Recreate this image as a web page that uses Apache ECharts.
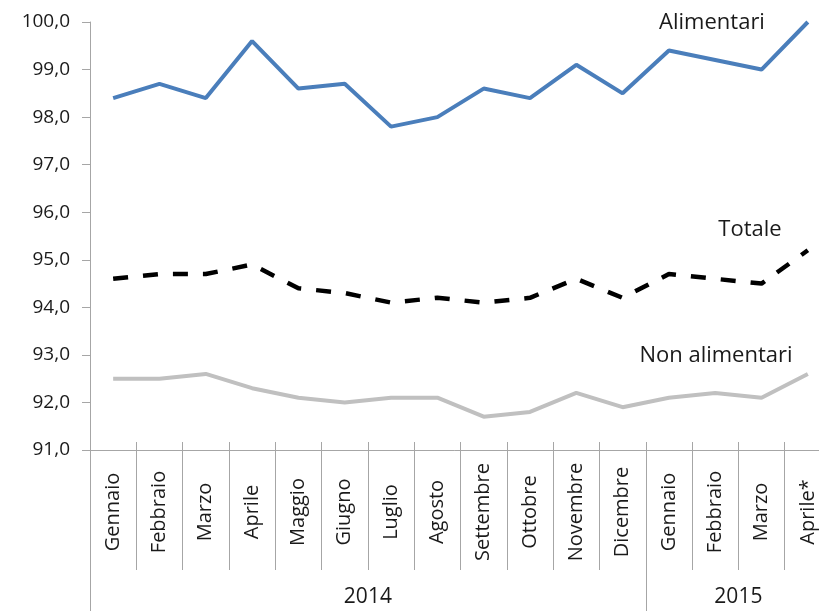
<!DOCTYPE html>
<html>
<head>
<meta charset="utf-8">
<script src="https://cdn.jsdelivr.net/npm/echarts@6/dist/echarts.min.js"></script>
<style>
  html, body { margin: 0; padding: 0; background: #fff; }
  #chart { width: 819px; height: 611px; }
</style>
</head>
<body>
<div id="chart"></div>
<script>
var months = ['Gennaio', 'Febbraio', 'Marzo', 'Aprile', 'Maggio', 'Giugno', 'Luglio', 'Agosto',
    'Settembre', 'Ottobre', 'Novembre', 'Dicembre', 'Gennaio', 'Febbraio', 'Marzo', 'Aprile*'];
var years = ['2014', '2015'];
var yearMonths = [12, 4];

var alimentari = [98.4, 98.7, 98.4, 99.6, 98.6, 98.7, 97.8, 98.0, 98.6, 98.4, 99.1, 98.5, 99.4, 99.2, 99.0, 100.0];
var totale = [94.6, 94.7, 94.7, 94.9, 94.4, 94.3, 94.1, 94.2, 94.1, 94.2, 94.6, 94.2, 94.7, 94.6, 94.5, 95.2];
var nonAlimentari = [92.5, 92.5, 92.6, 92.3, 92.1, 92.0, 92.1, 92.1, 91.7, 91.8, 92.2, 91.9, 92.1, 92.2, 92.1, 92.6];

var font = 'Open Sans';
var axisColor = '#a6a6a6';
var textColor = '#1a1a1a';

// year boundaries and centers on the 0..16 scale
var yearEdges = [0];
var yearCenters = [];
var acc = 0;
yearMonths.forEach(function (n) {
    yearCenters.push(acc + n / 2);
    acc += n;
    yearEdges.push(acc);
});
var monthEdges = [];
for (var i = 1; i < months.length; i++) {
    if (yearEdges.indexOf(i) < 0) monthEdges.push(i);
}

var myChart = echarts.init(document.getElementById('chart'));
var option = {
    animation: false,
    grid: { left: 90, width: 741, top: 22, bottom: 161, outerBoundsMode: 'none' },
    xAxis: [
        {
            type: 'category',
            data: months,
            boundaryGap: true,
            axisLine: { lineStyle: { color: axisColor, width: 1 } },
            axisTick: { alignWithLabel: true, length: 8, lineStyle: { color: axisColor } },
            axisLabel: {
                interval: 0, rotate: 90, align: 'center', verticalAlign: 'middle',
                margin: 62, fontFamily: font, fontSize: 20, color: textColor
            },
            splitLine: { show: false }
        },
        {
            type: 'value', min: 0, max: months.length, position: 'bottom', offset: -8,
            axisLine: { show: false },
            axisTick: { show: true, customValues: monthEdges, length: 128, lineStyle: { color: axisColor } },
            axisLabel: { show: false },
            splitLine: { show: false }
        },
        {
            type: 'value', min: 0, max: months.length, position: 'bottom', offset: -8,
            axisLine: { show: false },
            axisTick: { show: true, customValues: yearEdges, length: 170, lineStyle: { color: axisColor } },
            axisLabel: {
                show: true, customValues: yearCenters, margin: 145,
                fontFamily: font, fontSize: 21, color: textColor,
                formatter: function (v) { return years[yearCenters.indexOf(v)]; }
            },
            splitLine: { show: false }
        }
    ],
    yAxis: {
        type: 'value', min: 91, max: 100, interval: 1,
        axisLine: { show: true, lineStyle: { color: axisColor } },
        axisTick: { show: true, length: 8, lineStyle: { color: axisColor } },
        axisLabel: {
            margin: 20, fontFamily: font, fontSize: 19, color: textColor,
            formatter: function (v) { return v.toFixed(1).replace('.', ','); }
        },
        splitLine: { show: false }
    },
    series: [
        {
            name: 'Alimentari', type: 'line', data: alimentari, symbol: 'none',
            lineStyle: { color: '#4a7ebb', width: 4 }
        },
        {
            name: 'Totale', type: 'line', data: totale, symbol: 'none',
            lineStyle: { color: '#000', width: 4.5, type: [15, 15] }
        },
        {
            name: 'Non alimentari', type: 'line', data: nonAlimentari, symbol: 'none',
            lineStyle: { color: '#c0c0c0', width: 4 }
        }
    ],
    graphic: [
        { type: 'text', x: 712, y: 23, style: { text: 'Alimentari', font: '22px "Open Sans"', fill: textColor, align: 'center', verticalAlign: 'middle' } },
        { type: 'text', x: 750, y: 230, style: { text: 'Totale', font: '22px "Open Sans"', fill: textColor, align: 'center', verticalAlign: 'middle' } },
        { type: 'text', x: 716, y: 356, style: { text: 'Non alimentari', font: '22px "Open Sans"', fill: textColor, align: 'center', verticalAlign: 'middle' } }
    ]
};
myChart.setOption(option);
</script>
</body>
</html>
